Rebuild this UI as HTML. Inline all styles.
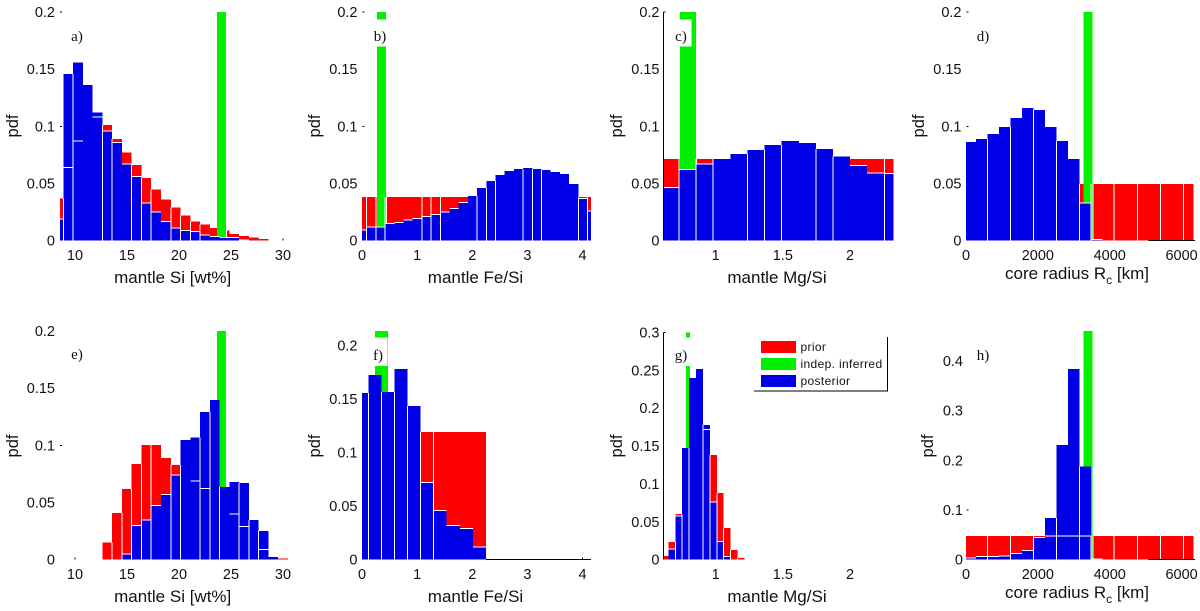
<!DOCTYPE html>
<html>
<head>
<meta charset="utf-8">
<title>pdf panels</title>
<style>
html,body{margin:0;padding:0;background:#fff;width:1200px;height:611px;overflow:hidden}
svg{display:block}
rect{shape-rendering:crispEdges}
text{font-family:"Liberation Sans",sans-serif;fill:#111}
.title{font-size:17px;text-anchor:middle}
.pdf{font-size:16.5px;text-anchor:middle}
.tag{font-family:"Liberation Serif",serif;font-size:15px;text-anchor:middle}
.tick{font-size:14.5px}
.lg{font-size:12px;letter-spacing:.35px}
</style>
</head>
<body>
<svg id="chart" width="1200" height="611" viewBox="0 0 1200 611" xmlns="http://www.w3.org/2000/svg">
<g><g id="marks-a"></g>
<rect x="71" y="26" width="14" height="22" fill="#fff"/>
<text class="tag" x="77" y="41">a)</text>
<text class="pdf" transform="translate(18,126) rotate(-90)">pdf</text>
<text class="title" x="172.7" y="283">mantle Si [wt%]</text></g>

<g><g id="marks-b"></g>
<rect x="372.5" y="19.3" width="15" height="27.4" fill="#fff"/>
<text class="tag" x="380" y="41">b)</text>
<text class="pdf" transform="translate(320,126) rotate(-90)">pdf</text>
<text class="title" x="475.5" y="283">mantle Fe/Si</text></g>

<g><g id="marks-c"></g>
<rect x="674" y="19.3" width="17.3" height="27.4" fill="#fff"/>
<text class="tag" x="681" y="41">c)</text>
<text class="pdf" transform="translate(622,126) rotate(-90)">pdf</text>
<text class="title" x="777" y="283">mantle Mg/Si</text></g>

<g><g id="marks-d"></g>
<rect x="975" y="26" width="16" height="22" fill="#fff"/>
<text class="tag" x="983" y="41">d)</text>
<text class="pdf" transform="translate(924,126) rotate(-90)">pdf</text>
<text class="title" x="1077" y="279">core radius R<tspan font-size="12" dy="5">c</tspan><tspan dy="-5"> [km]</tspan></text></g>

<g><g id="marks-e"></g>
<rect x="71" y="344" width="14" height="22" fill="#fff"/>
<text class="tag" x="77" y="359">e)</text>
<text class="pdf" transform="translate(18,446) rotate(-90)">pdf</text>
<text class="title" x="172.7" y="602">mantle Si [wt%]</text></g>

<g><g id="marks-f"></g>
<rect x="372.5" y="337.7" width="15" height="28.3" fill="#fff"/>
<text class="tag" x="378" y="360">f)</text>
<text class="pdf" transform="translate(320,446) rotate(-90)">pdf</text>
<text class="title" x="475.5" y="602">mantle Fe/Si</text></g>

<g><g id="marks-g"></g>
<rect x="674" y="337.7" width="22" height="28.3" fill="#fff"/>
<text class="tag" x="681" y="360">g)</text>
<text class="pdf" transform="translate(622,446) rotate(-90)">pdf</text>
<text class="title" x="777" y="602">mantle Mg/Si</text></g>

<g><g id="marks-h"></g>
<rect x="975" y="344" width="16" height="22" fill="#fff"/>
<text class="tag" x="983" y="360">h)</text>
<text class="pdf" transform="translate(933,446) rotate(-90)">pdf</text>
<text class="title" x="1077" y="598">core radius R<tspan font-size="12" dy="5">c</tspan><tspan dy="-5"> [km]</tspan></text></g>

<g>
<rect x="754" y="337" width="133.5" height="54" fill="#fff"/>
<path d="M887.5 337V391H754" fill="none" stroke="#000" stroke-width="1"/>
<rect x="761" y="341" width="35" height="12" fill="#f00"/>
<rect x="761" y="358" width="35" height="12" fill="#00f000"/>
<rect x="761" y="375" width="35" height="12" fill="#0000e6"/>
<text class="lg" x="800.5" y="351">prior</text>
<text class="lg" x="800.5" y="368">indep. inferred</text>
<text class="lg" x="800.5" y="385">posterior</text>
</g>
</svg>
<script>
// ---- Bin layout (data units) ----
const siFirstEdge = 7.939, siBinWidth = 0.939;
const feFirstEdgeB = -0.0823, feBinWidthB = 0.1669;
const feFirstEdgeF = -0.1221, feBinWidthF = 0.237;
const mgFirstEdgeC = 0.5996, mgBinWidthC = 0.1274;
const mgFirstEdgeG = 0.5961, mgBinWidthG = 0.0515;
const rcFirstEdge = -48, rcBinWidth = 321;

// ---- Series values: prior / posterior pdf per bin ----
const priorA = [.037,.064,.087,.136,.108,.101,.089,.077,.066,.055,.045,.036,.029,.022,.017,.014,.011,.009,.006,.004,.003,.0015];
const posteriorA = [.019,.146,.156,.136,.112,.096,.086,.067,.056,.033,.025,.017,.011,.009,.008,.005,.0035,.0026,.0026,.0006,0,0];
const priorB = [.0382,.0382,.0382,.0382,.0382,.0382,.0382,.0382,.0382,.0382,.0382,.0382,.0382,.0382,.0382,.0382,.0382,.0382,.0382,.0382,.0382,.0382,.0382,.0382,.0382,.0382];
const posteriorB = [.0093,.012,.012,.015,.016,.018,.0195,.021,.023,.025,.028,.0335,.039,.046,.052,.0575,.061,.0627,.0636,.0627,.0618,.06,.0583,.0496,.037,.026];
const priorC = [.0714,.0714,.0714,.0714,.0714,.0714,.0714,.0714,.0714,.0714,.0714,.0714,.0714,.0714];
const posteriorC = [.0466,.0624,.0673,.0714,.0758,.0793,.0837,.0872,.0854,.0802,.0735,.0659,.0592,.0589];
const priorD = [.0496,.0496,.0496,.0496,.0496,.0496,.0496,.0496,.0496,.0496,.0496,.0496,.0496,.0496,.0496,.0496,.0496,.0496,.0496,.0496];
const posteriorD = [.0863,.0889,.0933,.0994,.1073,.116,.1143,.0994,.0872,.0714,.0329,.0012,0,0,0,0,0,0,0,0];
const priorE = [0,0,0,0,0,.0149,.0408,.0618,.0837,.1003,.1003,.089,.0828,.1047,.0688,.0624,.1397,0,.04,.0292,.0347,.009,.0023,.001];
const posteriorE = [0,0,0,0,0,0,0,.005,.0297,.0347,.0475,.0571,.074,.1047,.107,.129,.1397,.0636,.068,.067,.0347,.0251,.0023,0];
const priorF = [.1192,.1192,.1192,.1192,.1192,.1192,.1192,.1192,.1192,.1192];
const posteriorF = [.1557,.1725,.1566,.178,.1435,.0722,.0461,.0321,.0293,.0118];
const priorG = [.0048,.0233,.0603,.1474,.2398,.2516,.172,.138,.088,.0418,.0128,.0022];
const posteriorG = [0,.0141,.0576,.1474,.2398,.2516,.1777,.076,.0238,.004,0,0];
const priorH = [.0477,.0477,.0477,.0477,.0477,.0477,.0477,.0477,.0477,.0477,.0477,.0477,.0477,.0477,.0477,.0477,.0477,.0477,.0477,.0477];
const posteriorH = [.0034,.006,.006,.0074,.012,.0188,.0443,.0839,.2309,.3839,.1872,.001,0,0,0,0,0,0,0,0];

// ---- Independently inferred range: [low, high, pdf] ----
const indepSiA = [23.65,24.52,.2];
const indepFeB = [.272,.435,.2];
const indepMgC = [.7345,.8536,.2];
const indepRc = [3265,3525,.2];
const indepSiE = [23.65,24.52,.2];
const indepFeF = [.236,.4716,.2138];
const indepMgG = [.779,.8084,.3];
const indepRcH = [3265,3525,.46];

// ---- Bin edges that show a white separator ----
const sepA = [1,2,5,6,8,9,10,12,13,14,15];
const sepB = [1,2,3,7,8,9,13,14,15,18,19,20,24,25];
const sepC = [1,2,3,5,6,7,9,10,13];
const sepRc = [2,4,6,8,10,11,13,15,17,19];
const sepE = [6,7,8,9,10,12,13,15,16,17,19,20,21];
const sepF = [1,2,3,4,5,6];
const sepG = [2,3,4,6,7,8,9,10,11];

// ---- Tick values and labels ----
const xTicksSi = [10,15,20,25,30];
const xTicksFe = [0,1,2,3,4];
const xTicksMg = [1,1.5,2];
const xTicksRc = [0,2000,4000,6000];
const yTicks02 = [0,.05,.1,.15,.2];
const yLabels02 = ['0','0.05','0.1','0.15','0.2'];
const yTicksG = [0,.05,.1,.15,.2,.25,.3];
const yLabelsG = ['0','0.05','0.1','0.15','0.2','0.25','0.3'];
const yTicksH = [0,.1,.2,.3,.4];
const yLabelsH = ['0','0.1','0.2','0.3','0.4'];

const SI = {xRef:10, xPx:75, xK:10.4, xMin:8.56, xMax:30.8};
const FE = {xRef:0, xPx:362, xK:55.13, xMin:0, xMax:4.153};
const MG = {xRef:1, xPx:715.67, xK:134.33, xMin:.6104, xMax:2.3226};
const RC = {xRef:0, xPx:966, xK:.03593, xMin:0, xMax:6326};

const panels = [
 {id:'a',ax:SI,y0:240.7,yK:1143.3,first:siFirstEdge,width:siBinWidth,prior:priorA,post:posteriorA,indep:indepSiA,sep:sepA,overlap:true,xT:xTicksSi,yT:yTicks02,yL:yLabels02,labX:55,xBase:260,yMarks:[.2,.1],xMarks:[30],tickX:60},
 {id:'b',ax:FE,y0:240.7,yK:1143.3,first:feFirstEdgeB,width:feBinWidthB,prior:priorB,post:posteriorB,indep:indepFeB,sep:sepB,overlap:false,xT:xTicksFe,yT:yTicks02,yL:yLabels02,labX:357.5,xBase:260,yMarks:[.2,.1],xMarks:[],tickX:362.5},
 {id:'c',ax:MG,y0:240.7,yK:1143.3,first:mgFirstEdgeC,width:mgBinWidthC,prior:priorC,post:posteriorC,indep:indepMgC,sep:sepC,overlap:false,xT:xTicksMg,yT:yTicks02,yL:yLabels02,labX:659.5,xBase:260,yMarks:[.2],xMarks:[],tickX:663.3,axisLine:true},
 {id:'d',ax:RC,y0:240.7,yK:1143.3,first:rcFirstEdge,width:rcBinWidth,prior:priorD,post:posteriorD,indep:indepRc,sep:sepRc,overlap:false,xT:xTicksRc,yT:yTicks02,yL:yLabels02,labX:961.5,xBase:260,yMarks:[.2,.1],xMarks:[],tickX:966.5,base:[5074,6373]},
 {id:'e',ax:SI,y0:559.7,yK:1143.3,first:siFirstEdge,width:siBinWidth,prior:priorE,post:posteriorE,indep:indepSiE,sep:sepE,overlap:true,xT:xTicksSi,yT:yTicks02,yL:yLabels02,labX:55,xBase:579,yMarks:[.1],xMarks:[10],tickX:60},
 {id:'f',ax:FE,y0:559.7,yK:1070.7,first:feFirstEdgeF,width:feBinWidthF,prior:priorF,post:posteriorF,indep:indepFeF,sep:sepF,overlap:false,xT:xTicksFe,yT:yTicks02,yL:yLabels02,labX:357.5,xBase:579,yMarks:[],xMarks:[4],tickX:362.5,base:[2.245,4.153]},
 {id:'g',ax:MG,y0:559.7,yK:757.7,first:mgFirstEdgeG,width:mgBinWidthG,prior:priorG,post:posteriorG,indep:indepMgG,sep:sepG,overlap:true,xT:xTicksMg,yT:yTicksG,yL:yLabelsG,labX:659.5,xBase:579,yMarks:[.3],xMarks:[],tickX:663.3,axisLine:true},
 {id:'h',ax:RC,y0:559.7,yK:496.7,first:rcFirstEdge,width:rcBinWidth,prior:priorH,post:posteriorH,indep:indepRcH,sep:sepRc,overlap:true,xT:xTicksRc,yT:yTicksH,yL:yLabelsH,labX:963,xBase:579,yMarks:[.1],xMarks:[],tickX:966.5,base:[5074,6373]}
];

const NS = 'http://www.w3.org/2000/svg';
function svgEl(tag, parent, attrs) {
  const el = document.createElementNS(NS, tag);
  for (const k in attrs) el.setAttribute(k, attrs[k]);
  parent.appendChild(el);
  return el;
}

panels.forEach(function (p) {
  const g = document.getElementById('marks-' + p.id);
  const sx = function (v) { return p.ax.xPx + (v - p.ax.xRef) * p.ax.xK; };
  const sy = function (v) { return p.y0 - v * p.yK; };
  const clip = function (v) { return Math.max(p.ax.xMin, Math.min(p.ax.xMax, v)); };
  const edge = function (i) { return clip(p.first + i * p.width); };
  const n = Math.max(p.prior.length, p.post.length);

  for (let i = 0; i < p.prior.length; i++) {
    if (!p.prior[i]) continue;
    const bar = svgEl('rect', g, {x: sx(edge(i)), y: sy(p.prior[i]), width: sx(edge(i + 1)) - sx(edge(i)), height: p.prior[i] * p.yK, fill: '#f00'});
    
    
  }

  const green = svgEl('rect', g, {x: sx(p.indep[0]), y: sy(p.indep[2]), width: sx(p.indep[1]) - sx(p.indep[0]), height: p.indep[2] * p.yK, fill: '#00f000'});
  
  
  const greenEdge = svgEl('rect', g, {x: sx(p.indep[1]), y: sy(p.indep[2]), width: 1, height: p.indep[2] * p.yK, fill: '#fff'});
  
  

  for (let i = 0; i < p.post.length; i++) {
    if (!p.post[i]) continue;
    const bar = svgEl('rect', g, {x: sx(edge(i)), y: sy(p.post[i]), width: sx(edge(i + 1)) - sx(edge(i)), height: p.post[i] * p.yK, fill: '#0000e6'});
    
    
  }

  for (let i = 0; i < n; i++) {
    const a = p.prior[i] || 0, b = p.post[i] || 0;
    if (!a || !b || a === b) continue;
    if (a < b && !p.overlap) continue;
    const low = Math.min(a, b);
    const line = svgEl('rect', g, {x: sx(edge(i)), y: sy(low) - .5, width: sx(edge(i + 1)) - sx(edge(i)), height: 1, fill: '#fff'});
    
    
  }

  p.sep.forEach(function (i) {
    const h = function (k) { return Math.max(p.prior[k] || 0, p.post[k] || 0); };
    const top = Math.min(h(i - 1), h(i));
    const line = svgEl('rect', g, {x: sx(edge(i)) - .5, y: sy(top), width: 1, height: top * p.yK, fill: '#fff'});
    
    
  });

  if (p.axisLine) {
    const axis = svgEl('rect', g, {x: p.tickX - .5, y: sy(p.yMarks[0]), width: 1, height: p.yMarks[0] * p.yK, fill: '#000'});
    
    
  }
  if (p.base) {
    const base = svgEl('rect', g, {x: sx(p.base[0]), y: p.y0 - .5, width: sx(p.base[1]) - sx(p.base[0]), height: 1, fill: '#000'});
    
    
  }
  p.yMarks.forEach(function (v) {
    const t = svgEl('rect', g, {x: p.tickX, y: sy(v) - .5, width: 2, height: 1, fill: '#000'});
    
    
  });
  p.xMarks.forEach(function (v) {
    const t = svgEl('rect', g, {x: sx(v) - .5, y: p.y0 - 2, width: 1, height: 2, fill: '#000'});
    
    
  });

  p.xT.forEach(function (v) {
    const t = svgEl('text', g, {'class': 'tick', x: sx(v), y: p.xBase, 'text-anchor': 'middle'});
    
    
    t.textContent = String(v);
  });
  p.yT.forEach(function (v, i) {
    const t = svgEl('text', g, {'class': 'tick', x: p.labX, y: sy(v) + 5, 'text-anchor': 'end'});
    
    
    t.textContent = p.yL[i];
  });
});
</script>
</body>
</html>
